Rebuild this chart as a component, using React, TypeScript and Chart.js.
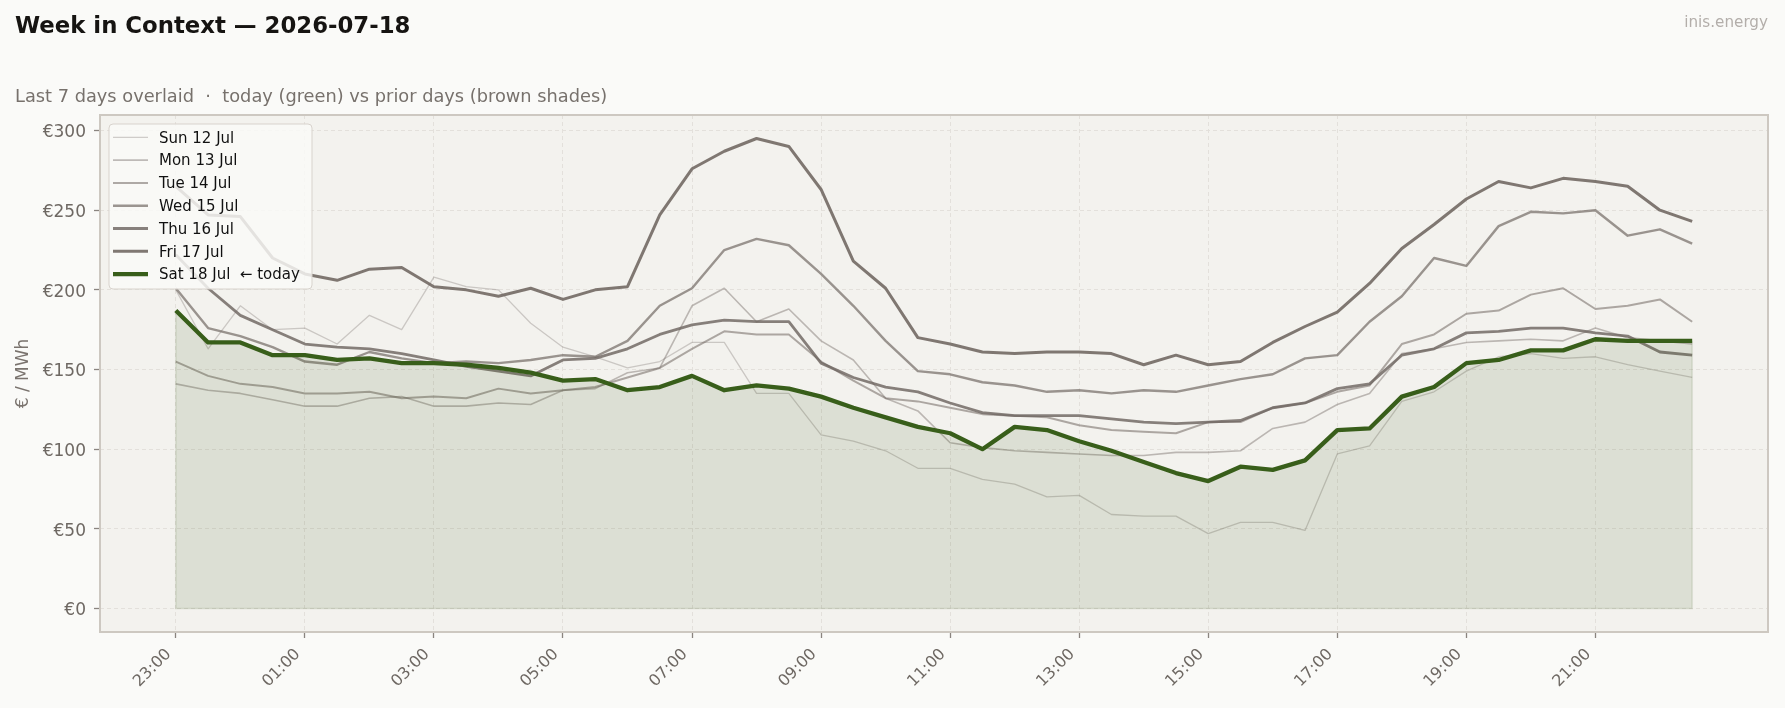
import { useEffect, useRef } from "react";
import { Chart, registerables } from "chart.js";

Chart.register(...registerables);

// Half-hour slots (delivery day view starting 23:00 the evening before)
const SLOTS = [
  "23:00", "23:30", "00:00", "00:30", "01:00", "01:30", "02:00", "02:30",
  "03:00", "03:30", "04:00", "04:30", "05:00", "05:30", "06:00", "06:30",
  "07:00", "07:30", "08:00", "08:30", "09:00", "09:30", "10:00", "10:30",
  "11:00", "11:30", "12:00", "12:30", "13:00", "13:30", "14:00", "14:30",
  "15:00", "15:30", "16:00", "16:30", "17:00", "17:30", "18:00", "18:30",
  "19:00", "19:30", "20:00", "20:30", "21:00", "21:30", "22:00", "22:30",
];
const X_TICK_SLOTS = [0, 4, 8, 12, 16, 20, 24, 28, 32, 36, 40, 44];
const Y_TICKS = [0, 50, 100, 150, 200, 250, 300];

const DAY_LABELS = [
  "Sun 12 Jul",
  "Mon 13 Jul",
  "Tue 14 Jul",
  "Wed 15 Jul",
  "Thu 16 Jul",
  "Fri 17 Jul",
  "Sat 18 Jul  \u2190 today",
];

// €/MWh per half-hour slot
const SUN = [200, 163, 190, 175, 176, 166, 184, 175, 208, 202, 200, 179, 164, 158, 151, 155, 167, 167, 135, 135, 109, 105, 99, 88, 88, 81, 78, 70, 71, 59, 58, 58, 47, 54, 54, 49, 97, 102, 130, 136, 149, 158, 160, 157, 158, 153, 149, 145];
const MON = [141, 137, 135, 131, 127, 127, 132, 133, 127, 127, 129, 128, 137, 138, 148, 151, 190, 201, 180, 188, 168, 156, 132, 124, 104, 101, 99, 98, 97, 96, 96, 98, 98, 99, 113, 117, 128, 135, 160, 163, 167, 168, 169, 168, 176, 170, 168, 166];
const TUE = [155, 146, 141, 139, 135, 135, 136, 132, 133, 132, 138, 135, 137, 139, 145, 151, 163, 174, 172, 172, 155, 143, 132, 130, 126, 122, 121, 120, 115, 112, 111, 110, 117, 117, 126, 129, 136, 140, 166, 172, 185, 187, 197, 201, 188, 190, 194, 180];
const WED = [201, 176, 171, 164, 155, 153, 161, 157, 154, 155, 154, 156, 159, 158, 168, 190, 201, 225, 232, 228, 210, 190, 168, 149, 147, 142, 140, 136, 137, 135, 137, 136, 140, 144, 147, 157, 159, 180, 196, 220, 215, 240, 249, 248, 250, 234, 238, 229];
const THU = [222, 201, 184, 175, 166, 164, 163, 160, 156, 152, 149, 146, 156, 157, 163, 172, 178, 181, 180, 180, 154, 145, 139, 136, 129, 123, 121, 121, 121, 119, 117, 116, 117, 118, 126, 129, 138, 141, 159, 163, 173, 174, 176, 176, 173, 171, 161, 159];
const FRI = [265, 247, 246, 220, 210, 206, 213, 214, 202, 200, 196, 201, 194, 200, 202, 247, 276, 287, 295, 290, 263, 218, 201, 170, 166, 161, 160, 161, 161, 160, 153, 159, 153, 155, 167, 177, 186, 204, 226, 241, 257, 268, 264, 270, 268, 265, 250, 243];
const SAT = [187, 167, 167, 159, 159, 156, 157, 154, 154, 153, 151, 148, 143, 144, 137, 139, 146, 137, 140, 138, 133, 126, 120, 114, 110, 100, 114, 112, 105, 99, 92, 85, 80, 89, 87, 93, 112, 113, 133, 139, 154, 156, 162, 162, 169, 168, 168, 168];

const SERIES = [SUN, MON, TUE, WED, THU, FRI, SAT];
const COLORS = [
  "rgba(110,101,96,0.30)",
  "rgba(110,101,96,0.42)",
  "rgba(110,101,96,0.54)",
  "rgba(110,101,96,0.68)",
  "rgba(110,101,96,0.82)",
  "rgba(110,101,96,0.88)",
  "#385e1a",
];
const WIDTHS = [1.3, 1.6, 2.0, 2.4, 2.8, 3.0, 4.3];
const TODAY_FILL = "rgba(56,94,26,0.12)";

const FONT = '"DejaVu Sans", "Noto Sans", sans-serif';
const TICK_COLOR = "#6e6863";
const GRID_COLOR = "#e3e0db";

const framePlugin = {
  id: "frameAndLegend",
  beforeDraw(chart: any) {
    const { ctx, chartArea: a } = chart;
    ctx.save();
    ctx.fillStyle = "#f3f2ee";
    ctx.fillRect(a.left, a.top, a.right - a.left, a.bottom - a.top);
    ctx.restore();
  },
  beforeDatasetsDraw(chart: any) {
    // edge of the "today" shaded area (as drawn by an alpha fill with edge)
    const { ctx, scales } = chart;
    const xs = scales.x, ys = scales.y;
    const last = SAT.length - 1;
    ctx.save();
    ctx.beginPath();
    ctx.moveTo(xs.getPixelForValue(0), ys.getPixelForValue(SAT[0]));
    ctx.lineTo(xs.getPixelForValue(0), ys.getPixelForValue(0));
    ctx.lineTo(xs.getPixelForValue(last), ys.getPixelForValue(0));
    ctx.lineTo(xs.getPixelForValue(last), ys.getPixelForValue(SAT[last]));
    ctx.strokeStyle = TODAY_FILL;
    ctx.lineWidth = 1.7;
    ctx.stroke();
    ctx.restore();
  },
  afterDatasetsDraw(chart: any) {
    const { ctx, chartArea: a } = chart;
    ctx.save();
    ctx.strokeStyle = "#cdc8c1";
    ctx.lineWidth = 2;
    ctx.strokeRect(a.left, a.top, a.right - a.left, a.bottom - a.top);

    // legend (inside upper-left of the plot)
    const lx = 109, ly = 124, lw = 203, lh = 165;
    ctx.beginPath();
    ctx.roundRect(lx, ly, lw, lh, 4);
    ctx.fillStyle = "rgba(250,250,248,0.82)";
    ctx.fill();
    ctx.strokeStyle = "#d8d3cd";
    ctx.lineWidth = 1;
    ctx.stroke();
    ctx.font = `15px ${FONT}`;
    ctx.textBaseline = "middle";
    ctx.textAlign = "left";
    DAY_LABELS.forEach((label, k) => {
      const y = 137.3 + 22.8 * k;
      ctx.beginPath();
      ctx.moveTo(113, y);
      ctx.lineTo(148, y);
      ctx.strokeStyle = COLORS[k];
      ctx.lineWidth = WIDTHS[k];
      ctx.stroke();
      ctx.fillStyle = "#111111";
      ctx.fillText(label, 159, y + 1.5);
    });
    ctx.restore();
  },
};

export default function App() {
  const canvasRef = useRef<HTMLCanvasElement | null>(null);

  useEffect(() => {
    if (!canvasRef.current) return;
    const datasets = SERIES.map((vals, k) => ({
      label: DAY_LABELS[k],
      data: vals.map((v, i) => ({ x: i, y: v })),
      borderColor: COLORS[k],
      borderWidth: WIDTHS[k],
      pointRadius: 0,
      tension: 0,
      borderJoinStyle: "round" as const,
      fill: k === SERIES.length - 1 ? "origin" : false,
      backgroundColor: k === SERIES.length - 1 ? TODAY_FILL : "transparent",
      order: SERIES.length - 1 - k,
    }));

    const chart = new Chart(canvasRef.current, {
      type: "line",
      data: { datasets },
      options: {
        animation: false,
        responsive: false,
        devicePixelRatio: 1,
        layout: { padding: { top: 115, right: 17, bottom: 0, left: 0 } },
        plugins: {
          legend: { display: false },
          tooltip: { enabled: false },
          title: { display: false },
        },
        scales: {
          x: {
            type: "linear",
            min: -2.35,
            max: 49.35,
            afterBuildTicks: (s: any) => {
              s.ticks = X_TICK_SLOTS.map((v) => ({ value: v }));
            },
            afterFit: (s: any) => {
              s.height = 76;
            },
            ticks: {
              autoSkip: false,
              minRotation: 45,
              maxRotation: 45,
              padding: 7,
              labelOffset: -7,
              color: TICK_COLOR,
              font: { family: FONT, size: 16 },
              callback: (v: any) => SLOTS[v as number] ?? "",
            },
            grid: {
              color: GRID_COLOR,
              lineWidth: 1,
              drawTicks: true,
              tickLength: 6,
              tickWidth: 1.3,
              tickColor: "#8a847f",
            },
            border: { display: false, dash: [4, 3] },
          },
          y: {
            type: "linear",
            min: -14.75,
            max: 309.75,
            afterBuildTicks: (s: any) => {
              s.ticks = Y_TICKS.map((v) => ({ value: v }));
            },
            afterFit: (s: any) => {
              s.width = 100;
            },
            ticks: {
              padding: 8,
              labelOffset: 2.3,
              color: TICK_COLOR,
              font: { family: FONT, size: 17 },
              callback: (v: any) => `\u20ac${v}`,
            },
            grid: {
              color: GRID_COLOR,
              lineWidth: 1,
              drawTicks: true,
              tickLength: 6,
              tickWidth: 1.3,
              tickColor: "#8a847f",
            },
            border: { display: false, dash: [4, 3] },
            title: {
              display: true,
              text: "\u20ac / MWh",
              color: "#7a736e",
              font: { family: FONT, size: 17 },
              padding: { top: 13, bottom: 0 },
            },
          },
        },
      },
      plugins: [framePlugin],
    });
    return () => chart.destroy();
  }, []);

  return (
    <div
      style={{
        position: "absolute",
        left: 0,
        top: 0,
        width: 1785,
        height: 708,
        background: "#fafaf8",
        overflow: "hidden",
        fontFamily: FONT,
      }}
    >
      <canvas
        ref={canvasRef}
        width={1785}
        height={708}
        style={{ position: "absolute", left: 0, top: 0, width: 1785, height: 708 }}
      />
      <div
        style={{
          position: "absolute",
          left: 15,
          top: 13.5,
          fontSize: 22.8,
          lineHeight: "22.8px",
          fontWeight: "bold",
          color: "#161412",
          whiteSpace: "nowrap",
        }}
      >
        Week in Context — 2026-07-18
      </div>
      <div
        style={{
          position: "absolute",
          left: 15,
          top: 87,
          fontSize: 17.8,
          lineHeight: "17.8px",
          color: "#77716c",
          whiteSpace: "pre",
        }}
      >
        {"Last 7 days overlaid  \u00b7  today (green) vs prior days (brown shades)"}
      </div>
      <div
        style={{
          position: "absolute",
          right: 17,
          top: 15,
          fontSize: 15.2,
          lineHeight: "15.2px",
          color: "#b3aeaa",
          whiteSpace: "nowrap",
        }}
      >
        inis.energy
      </div>
    </div>
  );
}
